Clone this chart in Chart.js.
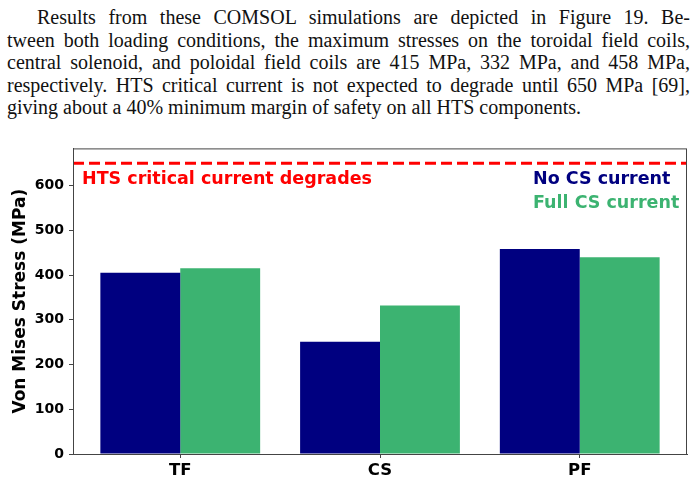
<!DOCTYPE html>
<html>
<head>
<meta charset="utf-8">
<script src="https://cdn.jsdelivr.net/npm/chart.js@4"></script>
<style>
  body { margin: 0; background: #fff; width: 699px; height: 481px; overflow: hidden; position: relative; }
  .txt { position: absolute; left: 7px; width: 683px; font-family: "Liberation Serif", serif; font-size: 20px; line-height: 22.5px; color: #111; }
  .txt div { text-align: justify; text-align-last: justify; white-space: nowrap; }
  .txt div.last { text-align-last: left; }
  #wrap { position: absolute; left: 0; top: 135px; width: 699px; height: 346px; }
</style>
</head>
<body>
<div class="txt" style="top:6px">
  <div style="padding-left:30px">Results from these COMSOL simulations are depicted in Figure 19. Be-</div>
  <div>tween both loading conditions, the maximum stresses on the toroidal field coils,</div>
  <div>central solenoid, and poloidal field coils are 415 MPa, 332 MPa, and 458 MPa,</div>
  <div>respectively. HTS critical current is not expected to degrade until 650 MPa [69],</div>
  <div class="last">giving about a 40% minimum margin of safety on all HTS components.</div>
</div>
<div id="wrap"><canvas id="stress"></canvas></div>
<script>
// Data
const coils = ['TF', 'CS', 'PF'];
const noCurrent = [405, 251, 458];
const fullCurrent = [415, 332, 440];
const yTicks = [0, 100, 200, 300, 400, 500, 600];
const limitValue = 650;
const limitLabel = 'HTS critical current degrades';

const navy = '#000080';
const green = '#3CB371';

// Red dashed limit, its label, text legend and box frame
const extras = {
  id: 'extras',
  afterDatasetsDraw(chart) {
    const { ctx, chartArea: a, scales } = chart;
    const y = scales.y.getPixelForValue(limitValue);
    ctx.save();
    ctx.strokeStyle = '#FF0000';
    ctx.lineWidth = 3;
    ctx.setLineDash([11, 5]);
    ctx.beginPath();
    ctx.moveTo(a.left, y);
    ctx.lineTo(a.right, y);
    ctx.stroke();
    ctx.setLineDash([]);

    ctx.font = 'bold 17.5px "DejaVu Sans"';
    ctx.textBaseline = 'middle';
    ctx.textAlign = 'left';
    ctx.fillStyle = '#FF0000';
    ctx.fillText(limitLabel, a.left + 9, y + 16.5);

    chart.data.datasets.forEach((ds, i) => {
      ctx.fillStyle = ds.backgroundColor;
      ctx.fillText(ds.label, 533, y + 16.5 + i * 23.5);
    });

    ctx.strokeStyle = '#444';
    ctx.lineWidth = 1;
    ctx.strokeRect(a.left + 0.5, a.top + 0.5, a.right - a.left - 1, a.bottom - a.top);
    ctx.restore();
  }
};

new Chart(document.getElementById('stress'), {
  type: 'bar',
  data: {
    datasets: [
      { label: 'No CS current', data: coils.map((c, i) => ({ x: i, y: noCurrent[i] })), backgroundColor: navy },
      { label: 'Full CS current', data: coils.map((c, i) => ({ x: i, y: fullCurrent[i] })), backgroundColor: green }
    ]
  },
  options: {
    responsive: true,
    maintainAspectRatio: false,
    animation: false,
    layout: { padding: { left: 0, right: 12, top: 12, bottom: 0 } },
    datasets: { bar: { barPercentage: 1, categoryPercentage: 0.8, borderWidth: 0 } },
    plugins: { legend: { display: false }, tooltip: { enabled: false } },
    scales: {
      x: {
        type: 'linear',
        offset: false,
        min: -0.537,
        max: 2.537,
        afterBuildTicks: (s) => { s.ticks = coils.map((c, i) => ({ value: i })); },
        afterFit: (s) => { s.height = 27; },
        grid: { offset: false, drawOnChartArea: false, tickLength: 4, color: '#444' },
        border: { color: '#444', width: 1 },
        ticks: {
          padding: 3,
          color: '#000',
          font: { family: 'DejaVu Sans', weight: 'bold', size: 16.5 },
          callback: (v) => coils[v]
        }
      },
      y: {
        min: 0,
        max: 683,
        afterBuildTicks: (s) => { s.ticks = yTicks.map(v => ({ value: v })); },
        afterFit: (s) => { s.width = 73; },
        grid: { drawOnChartArea: false, tickLength: 4, color: '#444' },
        border: { color: '#444', width: 1 },
        ticks: {
          padding: 5,
          color: '#000',
          font: { family: 'DejaVu Sans', weight: 'bold', size: 14 }
        },
        title: {
          display: true,
          text: 'Von Mises Stress (MPa)',
          color: '#000',
          padding: { top: 10, bottom: 0 },
          font: { family: 'DejaVu Sans', weight: 'bold', size: 17 }
        }
      }
    }
  },
  plugins: [extras]
});
</script>
</body>
</html>
